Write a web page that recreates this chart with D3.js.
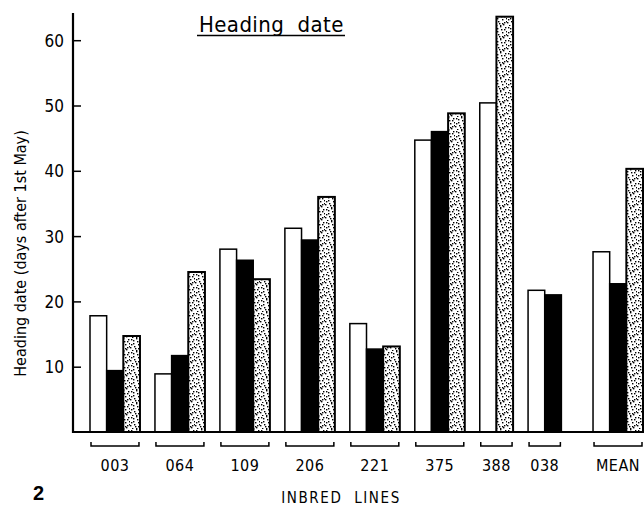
<!DOCTYPE html>
<html>
<head>
<meta charset="utf-8">
<script src="https://cdn.jsdelivr.net/npm/d3@7"></script>
<style>
  html, body { margin: 0; padding: 0; background: #fff; }
  svg { display: block; }
  text { font-family: "DejaVu Sans", sans-serif; font-stretch: condensed; fill: #000; }
</style>
</head>
<body>
<svg id="chart" width="644" height="508"></svg>
<script>
// ---- data ----
const categories = ["003", "064", "109", "206", "221", "375", "388", "038", "MEAN"];
const seriesNames = ["open", "solid", "stippled"];
const openValues     = [17.8,  8.9, 28.0, 31.2, 16.6, 44.7, 50.4, 21.7, 27.6];
const solidValues    = [ 9.4, 11.7, 26.3, 29.4, 12.7, 46.0, null, 21.0, 22.7];
const stippledValues = [14.7, 24.5, 23.4, 36.0, 13.1, 48.8, 63.6, null, 40.3];
const yTicks = [10, 20, 30, 40, 50, 60];
const titleText = "Heading  date";
const yLabel = "Heading date (days after 1st May)";
const xLabel = "INBRED  LINES";
const figNumber = "2";

// ---- layout ----
const svg = d3.select("#chart");
const W = 644, H = 508;
const axisX = 73, baseY = 432, topY = 13;
const barUnit = 1, gapUnit = 0.9, extraGapBeforeMean = 1.0;

const y = d3.scaleLinear().domain([0, 10]).range([baseY, baseY - 65.3]);

// compute group positions in "bar units"
const seriesData = [openValues, solidValues, stippledValues];
const groups = [];
let u = 0;
categories.forEach((c, i) => {
  if (i > 0) u += gapUnit;
  if (c === "MEAN") u += extraGapBeforeMean;
  const bars = [];
  seriesData.forEach((vals, s) => {
    if (vals[i] !== null && vals[i] !== undefined) {
      bars.push({ cat: c, series: s, value: vals[i], u0: u });
      u += barUnit;
    }
  });
  groups.push({ cat: c, start: bars[0].u0, end: u, bars });
});
const totalUnits = u;
const x = d3.scaleLinear().domain([0, totalUnits]).range([90, 643]);

// ---- stipple pattern ----
const defs = svg.append("defs");
const pat = defs.append("pattern")
  .attr("id", "stipple").attr("patternUnits", "userSpaceOnUse")
  .attr("width", 13).attr("height", 13);
pat.append("rect").attr("width", 13).attr("height", 13).attr("fill", "#fff");
const dots = [[1,1],[6,0],[10,3],[3,5],[8,6],[12,8],[0,9],[5,10],[9,11],[2,12],[11,1],[7,3],[4,8],
              [1,6],[10,9],[6,12],[3,2],[8,10],[12,5]];
dots.forEach(([dx, dy]) => {
  pat.append("rect").attr("x", dx).attr("y", dy).attr("width", 1.4).attr("height", 1.4).attr("fill", "#000");
});

const fills = ["#fff", "#000", "url(#stipple)"];

// ---- bars ----
const allBars = groups.flatMap(g => g.bars);
svg.append("g").selectAll("rect")
  .data(allBars).join("rect")
  .attr("x", d => x(d.u0))
  .attr("y", d => y(d.value))
  .attr("width", d => x(d.u0 + barUnit) - x(d.u0))
  .attr("height", d => y(0) - y(d.value))
  .attr("fill", d => fills[d.series])
  .attr("stroke", "#000")
  .attr("stroke-width", d => d.series === 2 ? 2 : 1.5);

// ---- y axis ----
const yAxis = d3.axisRight(y).tickValues(yTicks).tickSize(8).tickFormat(d3.format("d"));
const gy = svg.append("g").attr("transform", `translate(${axisX},0)`).call(yAxis);
gy.select(".domain").remove();
gy.selectAll(".tick line").attr("stroke", "#000").attr("stroke-width", 1.5);
gy.selectAll(".tick text").attr("x", -9).attr("text-anchor", "end")
  .attr("font-size", 17).attr("dy", "0.35em")
  .style("font-family", '"DejaVu Sans", sans-serif');
svg.append("line").attr("x1", axisX).attr("x2", axisX)
  .attr("y1", topY).attr("y2", baseY + 1).attr("stroke", "#000").attr("stroke-width", 2.2);

// baseline
svg.append("line").attr("x1", axisX - 1).attr("x2", W)
  .attr("y1", baseY).attr("y2", baseY).attr("stroke", "#000").attr("stroke-width", 2);

// ---- group brackets & labels ----
const bracketY = 446, bracketTop = 442;
const gb = svg.append("g");
gb.selectAll("path").data(groups).join("path")
  .attr("d", g => `M${x(g.start) + 1},${bracketTop}V${bracketY}H${x(g.end) - 1}V${bracketTop}`)
  .attr("fill", "none").attr("stroke", "#000").attr("stroke-width", 1.5);
gb.selectAll("text").data(groups).join("text")
  .attr("x", g => (x(g.start) + x(g.end)) / 2)
  .attr("y", 471)
  .attr("text-anchor", "middle")
  .attr("font-size", 16)
  .attr("letter-spacing", 0.5)
  .text(g => g.cat);

// ---- labels ----
svg.append("text").attr("x", 199).attr("y", 32)
  .attr("font-size", 22).attr("letter-spacing", 0.4).style("white-space", "pre")
  .text(titleText);
svg.append("line").attr("x1", 197).attr("x2", 345).attr("y1", 35.5).attr("y2", 35.5)
  .attr("stroke", "#000").attr("stroke-width", 1.3);

svg.append("text")
  .attr("transform", `translate(26,${(125 + 382) / 2}) rotate(-90)`)
  .attr("text-anchor", "middle").attr("font-size", 16)
  .text(yLabel);

svg.append("text").attr("x", 341).attr("y", 503)
  .attr("text-anchor", "middle").attr("font-size", 15).attr("letter-spacing", 1.6)
  .style("white-space", "pre")
  .text(xLabel);

svg.append("text").attr("x", 33).attr("y", 500)
  .attr("font-size", 20).attr("font-weight", "bold")
  .style("font-family", '"Liberation Sans", Arial, sans-serif').style("font-stretch", "normal")
  .text(figNumber);
</script>
</body>
</html>
